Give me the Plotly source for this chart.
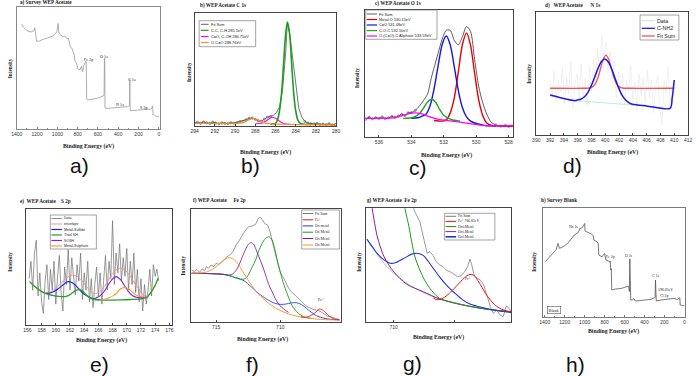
import plotly.graph_objects as go

W, H = 696, 376
SERIF = "Liberation Serif"
SANS = "Liberation Sans"

# ---------------- data ----------------
# (a) Survey WEP Acetate
a_be = [1352, 1330, 1300, 1260, 1232, 1224, 1218, 1205, 1180, 1150, 1100, 1053, 1020, 1004, 998, 993, 985,
        970, 950, 925, 905, 892, 880, 870, 859, 845, 835, 827, 815, 808, 800, 790, 778, 770, 762, 756, 750,
        740, 730, 722, 716, 711, 700, 680, 665, 640, 610, 584, 565, 552, 540, 536, 533, 531, 528, 500, 470,
        430, 400, 370, 340, 310, 295, 290, 286, 283, 275, 250, 211, 180, 150, 120, 100, 81, 70, 63, 60, 57,
        50, 40, 30, 20, 10, 0]
a_int = [86, 83, 80.5, 79.5, 80.5, 83, 80, 72, 72, 73.2, 74.5, 76, 78, 80, 84, 86.5, 78.5,
         77, 75.8, 76.2, 74, 74.5, 69, 67, 66.5, 62, 61, 55.5, 54.5, 53, 49.5, 49, 48.5, 50, 51.5, 48, 47,
         52, 54, 55.5, 55, 24.5, 23.8, 24, 24.3, 24.8, 25.2, 25.7, 26.5, 27, 27.5, 58, 58, 17.5, 17, 17, 17.2,
         17.3, 17.5, 17.6, 17.8, 18.3, 18.9, 19.2, 40.7, 15, 15, 15.2, 15, 15.4, 15.6, 15.8, 16, 16.3, 17, 18.9, 18.8, 11.5,
         11.8, 11, 10.5, 10.2, 10, 10]
a_labels = ["Fe 2p", "O 1s", "C 1s", "N 1s", "S 2p"]
a_label_be = [693, 540, 262, 379, 149]
a_label_int = [56.6, 59.3, 40.4, 19.7, 17.8]

# (b) C 1s
b_sum_be = [294, 293.7, 293.4, 293.1, 292.8, 292.5, 292.2, 291.9, 291.6, 291.3, 291.0, 290.7, 290.4, 290.1,
            289.8, 289.5, 289.2, 288.9, 288.6, 288.3, 288.0, 287.7, 287.4, 287.1, 286.8, 286.5, 286.2, 285.9,
            285.6, 285.3, 285.0, 284.82, 284.6, 284.3, 284.0, 283.7, 283.4, 283.1, 282.8, 282.5, 282.2, 281.9,
            281.6, 281.3, 281.0, 280.7, 280.4, 280.1]
b_sum_int = [2.5, 3.2, 2.4, 3.6, 2.8, 2.2, 3.4, 2.6, 2.0, 2.8, 2.3, 2.1, 2.9, 2.5,
             3.2, 4.0, 4.2, 5.6, 6.8, 7.0, 6.0, 4.6, 4.2, 6.0, 7.8, 8.4, 9.5, 12,
             17, 32, 64, 92, 82, 60, 38, 16, 8, 4, 2.6, 2.0, 1.8, 2.2,
             1.4, 1.7, 1.2, 2.0, 1.0, 1.3]
b_cc_be = [286.5, 286.0, 285.8, 285.6, 285.4, 285.2, 285.0, 284.82, 284.6, 284.4, 284.2, 284.0, 283.8, 283.6, 283.2, 282.5]
b_cc_int = [1.8, 2.3, 5.5, 13.5, 29, 55, 81, 92, 81, 55, 29, 13.5, 5.5, 2.8, 1.6, 1.4]
b_co_be = [288.0, 287.4, 287.0, 286.6, 286.3, 286.0, 285.6, 285.2, 284.5]
b_co_int = [2.0, 2.4, 4.0, 6.5, 7.7, 6.8, 4.2, 2.2, 1.6]
b_oco_be = [294, 292, 290, 289.2, 288.7, 288.2, 287.7, 287.2, 286.5, 285, 283, 280]
b_oco_int = [2.4, 2.2, 2.1, 3.0, 5.2, 6.6, 5.4, 3.0, 1.9, 1.6, 1.2, 0.8]
b_names = ["Fit Sum", "C-C, C-H 285.1eV", "C=O, C-OH 286.75eV", "O-C=O 288.76eV"]

# (c) O 1s
c_sum_be = [536.8, 536.6, 536.4, 536.2, 536.0, 535.8, 535.6, 535.4, 535.2, 535.0, 534.8, 534.6, 534.4, 534.2,
            534.0, 533.75, 533.5, 533.26, 533.0, 532.76, 532.5, 532.35, 532.1, 531.85, 531.6, 531.35, 531.1,
            530.85, 530.6, 530.35, 530.1, 529.85, 529.6, 529.35, 529.1, 528.8, 528.5, 528.2, 528.0, 527.8]
c_sum_int = [14.0, 15.6, 14.3, 15.2, 14.6, 15.8, 14.4, 15.1, 16.2, 15.4, 16.5, 17.8, 17.0, 19.0,
             19.2, 21.0, 24.5, 28.5, 34, 47, 59, 66, 77, 84, 84, 76, 72.5,
             79, 87, 83, 61, 40, 27, 18, 12, 9.5, 8.5, 9.2, 8.3, 8.8]
c_mo_be = [532.6, 532.1, 531.85, 531.6, 531.35, 531.1, 530.85, 530.6, 530.35, 530.1, 529.85, 529.6, 529.35, 529.1, 528.5, 528.0, 527.75]
c_mo_int = [13.0, 12.5, 13.5, 19.0, 31.0, 51.5, 72.8, 82.0, 72.2, 50.2, 29.5, 17.0, 11.0, 9.4, 8.7, 8.5, 8.5]
c_co_be = [534.0, 533.6, 533.35, 533.1, 532.85, 532.6, 532.35, 532.1, 531.85, 531.6, 531.35, 531.1, 530.85, 530.6, 530.35, 530.0, 529.5, 528.8]
c_co_int = [14.8, 15.2, 16.4, 18.0, 24.5, 37.8, 56.0, 72.8, 79.5, 72.5, 55.0, 36.4, 23.0, 15.8, 12.5, 10.6, 9.2, 8.7]
c_coc_be = [534.5, 534.0, 533.75, 533.5, 533.26, 533.0, 532.76, 532.5, 532.26, 532.0, 531.75, 531.5, 531.0]
c_coc_int = [14.7, 15.2, 16.2, 18.3, 22.6, 27.6, 29.7, 27.3, 21.8, 17.2, 15.0, 13.6, 12.5]
c_ali_be = [536.85, 536.0, 535.5, 535.0, 534.6, 534.2, 533.77, 533.4, 533.0, 532.6, 532.2, 531.5, 530.5, 529.5, 528.5, 527.75]
c_ali_int = [14.7, 14.7, 14.8, 15.3, 16.6, 18.3, 19.0, 18.4, 16.5, 14.8, 13.6, 12.5, 10.8, 9.0, 8.7, 8.7]
c_names = ["Fit Sum", "Metal-O 530.15eV", "C=O 531.48eV", "C-O-C 532.50eV", "O-(C=O)-C Aliphatic 533.59eV"]

# (d) N 1s
d_data_be = [392.0, 392.3, 392.6, 392.9, 393.2, 393.5, 393.8, 394.1, 394.4, 394.7,
             395.0, 395.3, 395.6, 395.9, 396.2, 396.5, 396.8, 397.1, 397.4, 397.7,
             398.0, 398.3, 398.6, 398.9, 399.2, 399.5, 399.8, 400.1, 400.4, 400.7,
             401.0, 401.3, 401.6, 401.9, 402.2, 402.5, 402.8, 403.1, 403.4, 403.7,
             404.0, 404.3, 404.6, 404.9, 405.2, 405.5, 405.8, 406.1, 406.4, 406.7,
             407.0, 407.3, 407.6, 407.9, 408.2, 408.5, 408.8, 409.1, 409.4, 409.7, 410.0]
d_data_int = [45, 30, 52, 28, 44, 35, 55, 25, 47, 33,
              60, 22, 41, 50, 27, 58, 31, 46, 24, 55,
              36, 62, 40, 70, 48, 82, 55, 76, 50, 68,
              42, 60, 30, 52, 33, 49, 25, 44, 35, 57,
              28, 42, 20, 50, 32, 46, 26, 53, 30, 45,
              18, 40, 48, 22, 8, 44, 34, 55, 27, 41, 36]
d_nh2_be = [392, 395.6, 395.95, 396.45, 396.95, 397.45, 397.95, 398.45, 398.95, 399.45, 399.95, 400.45,
            400.95, 401.45, 401.95, 402.45, 402.95, 403.45, 403.95, 406, 409.4, 409.7, 410]
d_nh2_int = [32.5, 27.9, 28.4, 29.1, 30.9, 34.3, 39.8, 46.8, 54.2, 59.8, 61.8, 59.4,
             53.4, 45.6, 38.1, 32.2, 28.4, 26.2, 25.0, 23.6, 21.7, 30, 44.7]
d_sum_be = [392, 397.0, 397.7, 398.1, 398.5, 398.9, 399.3, 399.7, 400.1, 400.5, 400.9, 401.3, 401.7, 402.1, 402.5, 403.2, 410]
d_sum_int = [38, 38, 38.2, 38.9, 41.1, 46, 53.7, 61.6, 65, 61.6, 53.7, 46, 41.1, 38.9, 38.2, 38, 38]
d_bg_be = [395.6, 404.0]
d_bg_int = [27.9, 24.4]
d_names = ["Data", "C-NH2", "Fit Sum"]

# (e) S 2p
e_data_be = [156.25, 156.5, 156.75, 157.0, 157.25, 157.5, 157.75, 158.0,
             158.25, 158.5, 158.75, 159.0, 159.25, 159.5, 159.75, 160.0,
             160.25, 160.5, 160.75, 161.0, 161.25, 161.5, 161.75, 162.0,
             162.25, 162.5, 162.75, 163.0, 163.25, 163.5, 163.75, 164.0,
             164.25, 164.5, 164.75, 165.0, 165.25, 165.5, 165.75, 166.0,
             166.25, 166.5, 166.75, 167.0, 167.25, 167.5, 167.75, 168.0,
             168.25, 168.5, 168.75, 169.0, 169.25, 169.5, 169.75, 170.0,
             170.25, 170.5, 170.75, 171.0, 171.25, 171.5, 171.75, 172.0,
             172.25, 172.5, 172.75, 173.0, 173.25, 173.5, 173.75, 174.0,
             174.25, 174.5]
e_data_int = [40, 55, 30, 62, 73, 25, 45, 20,
              10, 38, 52, 22, 48, 30, 55, 18,
              42, 60, 28, 12, 50, 35, 65, 30,
              58, 40, 26, 52, 38, 62, 22, 45,
              30, 55, 20, 40, 15, 35, 50, 25,
              45, 18, 38, 60, 30, 55, 40, 90,
              35, 62, 45, 70, 38, 58, 42, 66,
              30, 55, 35, 62, 28, 48, 20, 40,
              12, 35, 18, 30, 48, 25, 52, 42,
              48, 38]
e_env_be = [156.3, 157.0, 157.8, 158.6, 159.3, 160.0, 160.7, 161.4, 162.0, 162.4, 163.0, 163.6, 164.2, 164.8, 165.3,
            165.9, 166.5, 167.1, 167.7, 168.3, 169.0, 169.6, 170.2, 170.8, 171.4, 172.0, 172.7, 173.3, 173.9, 174.4]
e_env_int = [37.4, 33.0, 29.5, 27.8, 28.6, 31.5, 35.8, 40.0, 42.6, 43.1, 42.0, 38.8, 34.2, 29.8, 27.3,
             27.6, 30.5, 35.5, 41.5, 46.5, 48.9, 48.0, 44.5, 39.0, 33.5, 28.5, 24.6, 27.5, 33.5, 39.4]
e_ms_be = [158.6, 159.2, 159.8, 160.4, 161.0, 161.5, 161.8, 162.2, 162.7, 163.2, 163.7, 164.3, 165.0, 165.6, 166.2]
e_ms_int = [27.3, 27.6, 29.0, 31.5, 34.5, 36.8, 37.4, 36.9, 34.8, 31.5, 28.2, 25.3, 23.2, 22.2, 21.7]
e_sh_be = [156.3, 157.0, 157.8, 158.6, 159.5, 160.5, 161.3, 161.9, 162.4, 162.9, 163.3, 163.7, 164.2, 164.7, 165.3,
           166.0, 167.5, 169.0, 170.5, 172.0, 172.8, 173.4, 174.0, 174.4]
e_sh_int = [37.4, 33.4, 29.6, 27.0, 25.6, 24.6, 24.5, 25.8, 28.0, 30.0, 30.4, 29.6, 26.6, 23.8, 22.2,
            21.6, 21.5, 21.7, 22.0, 22.6, 23.6, 28.0, 34.0, 40.2]
e_so3h_be = [165.5, 166.1, 166.7, 167.3, 167.9, 168.5, 169.1, 169.7, 170.3, 170.9, 171.5, 172.1, 172.8]
e_so3h_int = [22.9, 24.5, 28.0, 33.6, 39.2, 41.7, 39.3, 33.8, 28.3, 25.0, 23.7, 23.5, 24.0]
e_sulph_be = [166.4, 166.9, 167.5, 168.1, 168.6, 169.1, 169.7, 170.3, 170.8, 171.3, 171.9, 172.4, 172.8]
e_sulph_int = [21.6, 22.2, 23.4, 25.3, 27.6, 31.0, 32.2, 31.0, 28.3, 25.8, 24.6, 24.2, 24.2]
e_names = ["Data", "envelope", "Metal-Sulfide", "Thiol SH", "SO3H", "Metal-Sulphate"]

# (f) Fe 2p
f_sum_be = [716.92, 716.7, 716.5, 716.3, 716.1, 715.9, 715.77, 715.6, 715.4, 715.2, 715.0, 714.8, 714.48, 714.2,
            713.97, 713.7, 713.46, 713.2, 712.9, 712.6, 712.43, 712.2, 711.92, 711.7, 711.53, 711.4, 711.2, 711.0,
            710.8, 710.64, 710.5, 710.38, 710.2, 710.0, 709.87, 709.6, 709.36, 709.1, 708.85, 708.6, 708.3, 708.08,
            707.8, 707.56, 707.3, 707.05, 706.8, 706.5, 706.28, 706.0, 705.77, 705.6, 705.38]
f_sum_int = [46.0, 44.5, 46.5, 44.0, 47.0, 45.5, 49.0, 47.5, 50.5, 49.0, 52.0, 51.0, 54.0, 57.5,
             59.0, 62.0, 68.0, 72.0, 78.0, 83.0, 84.4, 85.0, 86.5, 92.0, 92.6, 90.5, 87.0, 86.0,
             80.0, 72.0, 65.0, 60.0, 52.0, 44.0, 41.6, 36.0, 30.0, 26.3, 24.0, 21.0, 18.0, 15.2,
             13.0, 11.5, 10.6, 10.6, 9.0, 7.0, 5.0, 4.5, 3.5, 2.5, 2.0]
f_fe0_be = [708.4, 708.08, 707.8, 707.5, 707.2, 706.92, 706.6, 706.3, 706.0, 705.7, 705.38]
f_fe0_int = [4.5, 4.2, 4.8, 6.5, 9.0, 11.5, 9.8, 6.5, 3.8, 2.4, 1.9]
f_ox1_be = [716.92, 715.77, 715.0, 714.48, 713.97, 713.46, 712.82, 712.3, 711.92, 711.41, 710.9, 710.64, 710.38,
            710.13, 709.87, 709.62, 709.36, 709.1, 708.85, 708.59, 708.33, 708.08, 707.82, 707.56, 707.3, 707.05,
            706.7, 706.28, 705.77, 705.38]
f_ox1_int = [43.1, 42.9, 42.6, 42.2, 41.0, 39.0, 36.5, 31.5, 27.5, 22.8, 19.2, 17.6, 16.4,
             15.8, 15.6, 15.8, 16.4, 16.9, 17.1, 16.7, 15.3, 13.3, 10.8, 8.5, 6.4, 5.0,
             3.7, 2.7, 2.1, 1.8]
f_ox2_be = [716.92, 715.77, 715.0, 714.48, 713.97, 713.46, 713.1, 712.82, 712.6, 712.43, 712.2, 711.92, 711.7,
            711.41, 711.15, 710.9, 710.64, 710.38, 710.2, 710.0, 709.8, 709.62, 709.36, 709.1, 708.85, 708.59,
            708.3, 708.08, 707.56]
f_ox2_int = [43.1, 42.9, 42.6, 42.2, 41.0, 39.2, 38.0, 38.0, 39.8, 43.0, 48.5, 55.0, 62.5,
             69.6, 74.0, 75.5, 72.5, 62.2, 53.0, 44.5, 36.0, 29.8, 22.0, 15.0, 10.8, 7.7,
             5.5, 4.3, 3.2]
f_ox3_be = [716.92, 715.77, 715.0, 714.48, 713.97, 713.72, 713.46, 713.2, 712.95, 712.7, 712.5, 712.3, 712.1,
            711.92, 711.7, 711.41, 711.2, 711.02, 710.82, 710.64, 710.38, 710.13, 709.87, 709.62, 709.36]
f_ox3_int = [43.1, 42.9, 42.6, 42.2, 41.6, 42.5, 45.5, 51.0, 58.0, 64.5, 68.5, 70.2, 69.0,
             65.0, 58.5, 50.4, 43.5, 37.0, 31.0, 26.8, 20.5, 16.0, 12.8, 10.5, 8.5]
f_ox4_be = [716.92, 716.3, 715.77, 715.3, 714.9, 714.48, 714.2, 713.97, 713.7, 713.4, 713.1, 712.82, 712.5,
            712.2, 711.92, 711.41, 710.9, 710.38, 709.87, 709.36, 708.85, 708.08, 707.56, 707.05, 706.28, 705.38]
f_ox4_int = [43.1, 43.3, 44.2, 46.5, 50.0, 54.0, 56.2, 56.9, 56.0, 53.0, 48.0, 42.5, 37.0,
             32.0, 27.5, 21.5, 16.5, 12.5, 9.5, 7.2, 5.5, 3.9, 3.1, 2.5, 2.0, 1.8]
f_names = ["Fit Sum", "Fe°", "Ox metal", "Ox Metal", "Ox Metal", "Ox Metal"]

# (g) Fe 2p (zoom)
g_sum_be = [709.40, 709.33, 709.14, 708.98, 708.90, 708.81, 708.70, 708.60, 708.49, 708.38, 708.27, 708.11,
            708.0, 707.90, 707.79, 707.68, 707.57, 707.49, 707.43, 707.36, 707.25, 707.15, 707.04, 706.93,
            706.82, 706.72, 706.61, 706.50, 706.40, 706.29, 706.21, 706.14]
g_sum_int = [105, 98.5, 88.2, 69.1, 60.3, 61.7, 58.3, 52.9, 50.0, 48.5, 45.6, 43.5,
             41.2, 39.7, 40.6, 43.5, 48.5, 55.3, 50.0, 41.2, 38.2, 36.8, 32.4, 23.5,
             13.2, 7.4, 10.3, 5.9, 4.4, 14.1, 11.2, 9.5]
g_fe0_be = [708.7, 708.6, 708.49, 708.33, 708.17, 707.95, 707.74, 707.6, 707.49, 707.36, 707.2, 706.98,
            706.77, 706.61, 706.45, 706.29, 706.14]
g_fe0_int = [21.0, 19.5, 19.6, 21.5, 25.0, 31.0, 37.0, 40.3, 41.7, 40.8, 35.0, 25.0,
             17.5, 13.5, 11.0, 9.6, 8.8]
g_ox1_be = [709.75, 709.62, 709.5, 709.41, 709.3, 709.14, 709.0, 708.81, 708.6, 708.49, 708.2, 707.9, 707.5, 707.0, 706.5, 706.14]
g_ox1_int = [118, 98.5, 84, 70.6, 57, 45.6, 37.5, 29.4, 23.0, 20.5, 18.0, 16.0, 13.6, 11.3, 9.7, 8.6]
g_ox2_be = [710.80, 710.70, 710.54, 710.32, 710.0, 709.57, 709.03, 708.49, 708.0, 707.5, 707.0, 706.5, 706.14]
g_ox2_int = [118, 98.5, 75.0, 57.4, 44.0, 33.0, 26.5, 20.0, 16.4, 13.6, 11.3, 9.7, 8.6]
g_ox3_be = [710.885, 710.7, 710.54, 710.32, 710.11, 709.9, 709.62, 709.41, 709.24, 709.03, 708.87, 708.7, 708.49,
            708.27, 708.0, 707.74, 707.49, 707.2, 706.8, 706.45, 706.14]
g_ox3_int = [72.9, 66, 60, 54.5, 51.5, 52.5, 56.5, 59.6, 60.3, 58.5, 53.5, 47.1, 39.5,
             32.4, 25.5, 19.5, 15.5, 13.2, 10.8, 9.2, 8.2]
g_bg_be = [710.885, 710.7, 710.54, 710.32, 710.11, 709.9, 709.62, 709.35, 709.03, 708.7, 708.33, 707.95, 707.52, 707.0, 706.6, 706.14]
g_bg_int = [72.1, 65, 59.5, 51.5, 45.5, 40.5, 35, 30.2, 25.8, 22.0, 18.8, 16.0, 13.5, 11.2, 9.8, 8.5]
g_names = ["Fit Sum", "Fe° 706.83eV", "Oxi.Metal", "Oxi.Metal", "Oxi.Metal"]

# (h) Survey Blank
h_be = [1393, 1340, 1284, 1268, 1252, 1210, 1170, 1104, 1080, 1062, 1049, 1030, 1016, 1006, 1000, 996, 983,
        960, 940, 924, 915, 908, 875, 865, 858, 826, 800, 792, 787, 760, 748, 744, 738, 733, 728, 700, 629,
        600, 564, 556, 552, 547, 542, 538, 520, 505, 492, 450, 400, 334, 302, 294, 290, 286, 282, 236, 200,
        150, 105, 72, 50, 46, 42, 39, 20, 0]
h_int = [50.5, 56, 61.8, 67.3, 62.7, 64.5, 67.3, 74.9, 76, 77.4, 81, 81.5, 82.6, 84.7, 85.5, 78.6, 78,
         77.5, 76.4, 75.5, 74.5, 70.3, 68.8, 67, 56.6, 55, 58, 55, 52, 51, 50, 51, 42.8, 44, 24.5, 25.2, 26,
         26.8, 28.1, 27.5, 23, 53, 20, 15.3, 15.6, 16.5, 14.4, 15, 15.3, 15.9, 17.4, 17.6, 33.6, 14.6, 14.4, 15.3, 15.6,
         16.2, 16.8, 15.8, 17.4, 17.4, 10.7, 10.7, 10.3, 10]
h_labels = ["Na 1s", "Fe 2p", "O 1s", "C 1s", "198.03eV", "Cl 2p"]
h_label_be = [1110, 741, 553, 290, 185, 200]
h_label_int = [82, 55, 56, 37.6, 24.5, 19.0]

# ---------------- figure ----------------
fig = go.Figure()


def X(p):
    return p / W


def Y(p):
    return 1 - p / H


def ax(i):
    return ("x" if i == 1 else "x%d" % i), ("y" if i == 1 else "y%d" % i)


def add(i, xs, ys, color, width, shape="spline", mode="lines", marker=None):
    xa, ya = ax(i)
    kw = dict(x=xs, y=ys, xaxis=xa, yaxis=ya, mode=mode,
              line=dict(color=color, width=width, shape=shape, smoothing=0.8 if shape == "spline" else None),
              showlegend=False, hoverinfo="skip")
    if marker:
        kw["marker"] = marker
    fig.add_trace(go.Scatter(**kw))


def txt(x, y, s, size, family=SERIF, bold=False, anchor="center", angle=0, color="#222", border=None):
    fig.add_annotation(x=X(x), y=Y(y), xref="paper", yref="paper",
                       text=("<b>%s</b>" % s) if bold else s, showarrow=False,
                       xanchor=anchor, yanchor="middle", textangle=angle,
                       font=dict(size=size, family=family, color=color),
                       bordercolor=border if border else "rgba(0,0,0,0)", borderwidth=0.6 if border else 0,
                       borderpad=1)


def dtxt(i, xs, ys, labels, size, family=SERIF, color="#222"):
    xa, ya = ax(i)
    for xv, yv, s in zip(xs, ys, labels):
        fig.add_annotation(x=xv, y=yv, xref=xa, yref=ya, text=s, showarrow=False,
                           font=dict(size=size, family=family, color=color))


def legend(box, rows, xl0, xl1, xt, items, size, family, border="#666"):
    x0, y0, x1, y1 = box
    if border:
        fig.add_shape(type="rect", xref="paper", yref="paper", x0=X(x0), x1=X(x1), y0=Y(y1), y1=Y(y0),
                      line=dict(color=border, width=0.6), fillcolor="white")
    for (label, color, w), yy in zip(items, rows):
        fig.add_shape(type="line", xref="paper", yref="paper", x0=X(xl0), x1=X(xl1), y0=Y(yy), y1=Y(yy),
                      line=dict(color=color, width=w))
        txt(xt, yy, label, size, family=family, anchor="left", color="#222")


MK = dict(symbol="circle-open", size=2.2, color="#333", line=dict(width=0.5))

# (a)
add(1, a_be, a_int, "#9a9a9a", 0.8, shape="linear")
dtxt(1, a_label_be, a_label_int, a_labels, 4.2)

# (b)
add(2, b_sum_be, b_sum_int, "#3a3a3a", 0.7, shape="linear")
add(2, b_sum_be[:26] + b_sum_be[37:], b_sum_int[:26] + b_sum_int[37:], "#3a3a3a", 0.7, mode="markers", marker=MK)
add(2, b_co_be, b_co_int, "#ff00ff", 1.1)
add(2, b_cc_be, b_cc_int, "#1b9e1b", 1.6)
add(2, b_oco_be, b_oco_int, "#ff8c1a", 1.1)

# (c)
add(3, c_sum_be, c_sum_int, "#333333", 0.8)
add(3, c_sum_be[:16] + c_sum_be[35:], c_sum_int[:16] + c_sum_int[35:], "#333", 0.7, mode="markers", marker=MK)
add(3, c_mo_be, c_mo_int, "#e60000", 1.4)
add(3, c_co_be, c_co_int, "#1414e6", 1.4)
add(3, c_coc_be, c_coc_int, "#1fa51f", 1.4)
add(3, c_ali_be, c_ali_int, "#ff00ff", 1.3)

# (d)
add(4, d_data_be, d_data_int, "#e3e3e3", 0.5, shape="linear")
add(4, d_bg_be, d_bg_int, "#8fdccb", 0.6, shape="linear")
add(4, d_sum_be, d_sum_int, "#f25555", 1.3)
add(4, d_nh2_be, d_nh2_int, "#1a1ae6", 1.5)

# (e)
add(5, e_data_be, e_data_int, "#6f6f6f", 0.7, shape="linear")
add(5, e_env_be, e_env_int, "#f28c8c", 0.9)
add(5, e_ms_be, e_ms_int, "#2020e6", 1.1)
add(5, e_sh_be, e_sh_int, "#26a026", 1.3)
add(5, e_so3h_be, e_so3h_int, "#8a1ee6", 1.1)
add(5, e_sulph_be, e_sulph_int, "#ff9933", 1.1)

# (f)
add(6, f_sum_be, f_sum_int, "#555555", 0.6, shape="linear")
add(6, f_ox1_be, f_ox1_int, "#2040e0", 0.9)
add(6, f_ox2_be, f_ox2_int, "#12a012", 0.9)
add(6, f_ox3_be, f_ox3_int, "#8b1aa8", 0.9)
add(6, f_ox4_be, f_ox4_int, "#ff8c1a", 0.9)
add(6, f_fe0_be, f_fe0_int, "#e02020", 0.9)
dtxt(6, [706.85], [19.5], ["Fe°"], 4.2)

# (g)
add(7, g_sum_be, g_sum_int, "#555555", 0.6, shape="linear")
add(7, g_bg_be, g_bg_int, "#9cbb72", 0.8)
add(7, g_ox2_be, g_ox2_int, "#8b1aa8", 1.0)
add(7, g_ox1_be, g_ox1_int, "#12a012", 1.0)
add(7, g_ox3_be, g_ox3_int, "#2030e0", 1.1)
add(7, g_fe0_be, g_fe0_int, "#ee1111", 1.0)
dtxt(7, [707.57], [37.4], ["Fe°"], 3.8)

# (h)
add(8, h_be, h_int, "#555555", 0.8, shape="linear")
dtxt(8, h_label_be, h_label_int, h_labels, 3.8)

# ---------------- axes ----------------
dom = {
    1: ([11, 156.7], [7, 129]),
    2: ([191.3, 335], [13, 126]),
    3: ([364, 514.3], [10, 137]),
    4: ([538, 692], [12, 135]),
    5: ([20.7, 168.3], [209, 325]),
    6: ([187.3, 340], [209, 322]),
    7: ([365, 512.7], [208.3, 321.7]),
    8: ([545, 689], [207.7, 316.7]),
}
xr = {1: [1400, -16], 2: [294, 280], 3: [536.87, 527.74], 4: [390, 412],
      5: [155.86, 176.36], 6: [717.0, 705.25], 7: [710.92, 706.13], 8: [1416, -7]}
tv = {1: [1400, 1200, 1000, 800, 600, 400, 200, 0],
      2: [294, 292, 290, 288, 286, 284, 282, 280],
      3: [536, 534, 532, 530, 528],
      4: [390, 392, 394, 396, 398, 400, 402, 404, 406, 408, 410, 412],
      5: [156, 158, 160, 162, 164, 166, 168, 170, 172, 174, 176],
      6: [715, 710],
      7: [710, 708],
      8: [1400, 1200, 1000, 800, 600, 400, 200, 0]}
tt = {i: [str(v) for v in tv[i]] for i in tv}
tt[7] = ["710", ""]
linec = {1: "#8a8a8a", 8: "#7a7a7a"}

layout = dict(width=W, height=H, margin=dict(l=0, r=0, t=0, b=0),
              paper_bgcolor="white", plot_bgcolor="white", showlegend=False)
for i in range(1, 9):
    (xd, yd) = dom[i]
    xa, ya = ax(i)
    lc = linec.get(i, "#444444")
    xk = "xaxis" if i == 1 else "xaxis%d" % i
    yk = "yaxis" if i == 1 else "yaxis%d" % i
    xdict = dict(domain=[X(xd[0]), X(xd[1])], range=xr[i], anchor=ya, showline=True, mirror=True,
                 linecolor=lc, linewidth=0.8, ticks="inside", ticklen=2, tickwidth=0.6, tickcolor=lc,
                 tickvals=tv[i], ticktext=tt[i], tickfont=dict(size=5, family=SANS, color="#333"),
                 showgrid=False, zeroline=False, fixedrange=True)
    if i in (1, 8):
        xdict["minor"] = dict(dtick=100, ticks="inside", ticklen=1.2, tickcolor=lc, tickwidth=0.5)
    layout[xk] = xdict
    layout[yk] = dict(domain=[Y(yd[1]), Y(yd[0])], range=[0, 100], anchor=xa, showline=True, mirror=True,
                      linecolor=lc, linewidth=0.8, ticks="", showticklabels=False, showgrid=False,
                      zeroline=False, fixedrange=True)
fig.update_layout(**layout)

# ---------------- titles / labels ----------------
NB = "\u00a0"
titles = [
    (13, 3, "a) Survey WEP Acetate"),
    (196, 6, "b) WEP Acetate C 1s"),
    (373, 4, "c) WEP Acetate O 1s"),
    (545.5, 5, "d)" + NB * 3 + "WEP Acetate" + NB * 6 + "N 1s"),
    (13.5, 201.7, "e)" + NB * 2 + "WEP Acetate" + NB * 4 + "S 2p"),
    (188.3, 200, "f) WEP Acetate" + NB * 5 + "Fe 2p"),
    (365, 200, "g) WEP Acetate" + NB * 2 + "Fe 2p"),
    (541.7, 200, "h) Survey Blank"),
]
for x, y, s in titles:
    txt(x, y, s, 5.2, bold=True, anchor="left")

xtitles = [(84, 146), (263, 152), (446.7, 155), (615, 152), (96.7, 340), (260, 339), (438.3, 337), (616.7, 331)]
for x, y in xtitles:
    txt(x, y, "Binding Energy (eV)", 5.8, bold=True)

ytitles = [(4, 68.3), (185, 71.7), (356.7, 78.3), (531, 73.3), (4, 261.7), (180, 265), (358.3, 261.7), (535.7, 261.7)]
for x, y in ytitles:
    txt(x, y, "Intensity", 5.2, bold=True, angle=-90)

panel = [(75, 166, "a)"), (248, 166, "b)"), (418, 167, "c)"), (575, 165, "d)"),
         (95, 364, "e)"), (250, 364, "f)"), (412, 363, "g)"), (578, 364, "h)")]
for x, y, s in panel:
    txt(x, y, s, 21, family=SANS, color="#111")

txt(555.5, 310.3, "Blank", 4.2, border="#555")

# ---------------- legends ----------------
legend((196, 20.7, 253.3, 46.7), [24.3, 30.3, 36.5, 42.5], 197.7, 205.5, 206.5,
       list(zip(b_names, ["#3a3a3a", "#1b9e1b", "#ff00ff", "#ff8c1a"], [0.8, 1.2, 1.2, 1.2])), 3.9, SANS)
legend((365, 10, 437.3, 39.3), [14, 19.5, 25, 30.6, 36], 366, 376.5, 377.5,
       list(zip(c_names, ["#333", "#e60000", "#1414e6", "#1fa51f", "#ff00ff"], [0.8, 1.2, 1.2, 1.2, 1.2])), 3.9, SANS)
legend((643.3, 15, 682.7, 40), [20.7, 28.3, 36], 645, 658.3, 659.5,
       list(zip(d_names, ["#cfcfcf", "#1a1ae6", "#f25555"], [0.8, 1.3, 1.3])), 5.3, SANS)
legend((45, 215, 91.7, 249), [218.5, 224, 229.5, 235, 240.5, 246], 46, 56.7, 57.5,
       list(zip(e_names, ["#6f6f6f", "#f28c8c", "#2020e6", "#26a026", "#8a1ee6", "#ff9933"],
                [0.8, 1.0, 1.2, 1.2, 1.2, 1.2])), 3.6, SANS)
legend((300, 210, 338.3, 249), [213.5, 219.8, 225.9, 232.2, 238.5, 245], 301, 311.7, 312.5,
       list(zip(f_names, ["#555", "#e02020", "#2040e0", "#12a012", "#8b1aa8", "#ff8c1a"],
                [0.8, 1.0, 1.0, 1.0, 1.0, 1.0])), 3.8, SERIF)
legend((445, 213.3, 496, 240), [216.3, 221.4, 226.5, 231.6, 236.8], 446, 456.7, 457.5,
       list(zip(g_names, ["#555", "#ee1111", "#12a012", "#8b1aa8", "#2030e0"], [0.8, 1.0, 1.0, 1.0, 1.6])), 3.8, SERIF)

fig.write_html("out.html", config={"displayModeBar": False})
